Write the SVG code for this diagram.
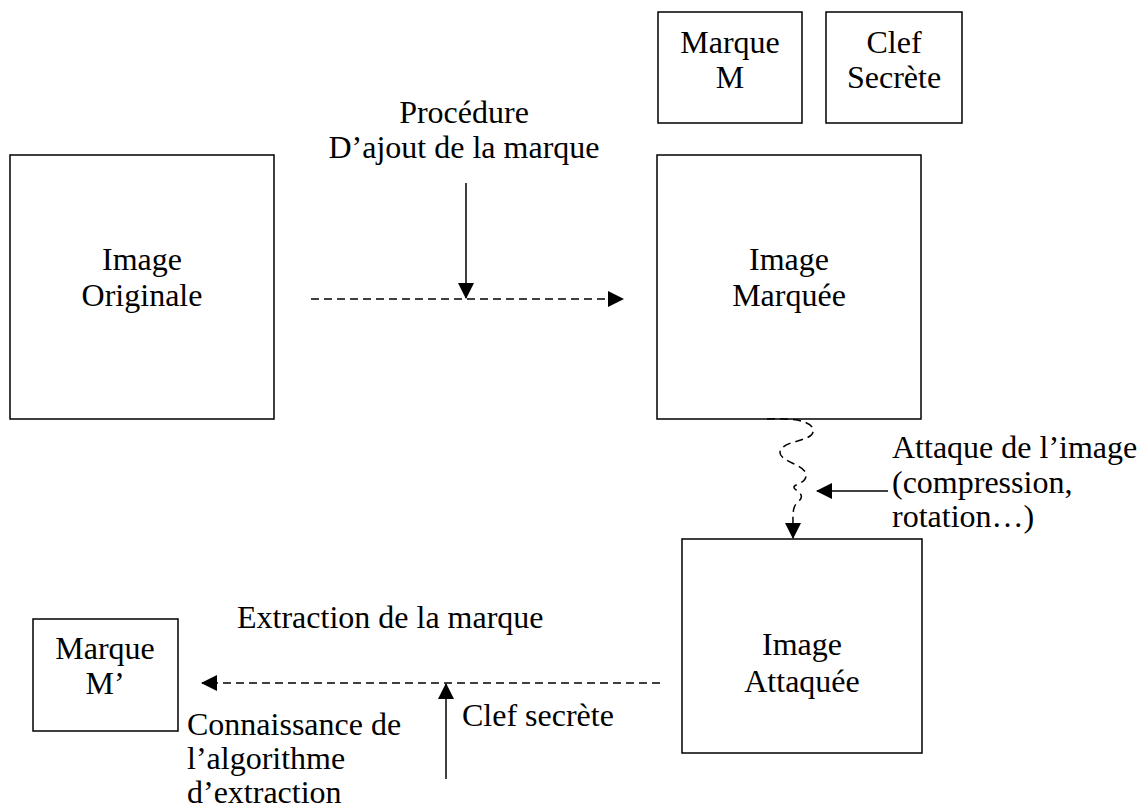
<svg xmlns="http://www.w3.org/2000/svg" width="1148" height="810" viewBox="0 0 1148 810">
<style>
.box{fill:#fff;stroke:#000;stroke-width:1.5}
text{font-family:"Liberation Serif","Times New Roman",serif;font-size:32px;fill:#000}
.c{text-anchor:middle}
.solid{fill:none;stroke:#000;stroke-width:1.5}
.dash{fill:none;stroke:#000;stroke-width:1.5;stroke-dasharray:8 5}
</style>
<defs>
<marker id="ah" markerUnits="userSpaceOnUse" markerWidth="16" markerHeight="16" viewBox="0 0 16 16" refX="15" refY="8" orient="auto">
<path d="M0,0 L16,8 L0,16 Z" fill="#000"/>
</marker>
</defs>
<rect width="1148" height="810" fill="#fff"/>
<g id="marque-m"><rect class="box" x="658" y="12" width="144" height="111"/><text class="c" x="730" y="53">Marque</text><text class="c" x="730" y="88">M</text></g>
<g id="clef-secrete"><rect class="box" x="826" y="12" width="136" height="111"/><text class="c" x="894" y="53">Clef</text><text class="c" x="894" y="88">Secrète</text></g>
<g id="procedure"><text class="c" x="464" y="123">Procédure</text><text class="c" x="464" y="158">D’ajout de la marque</text></g>
<g id="image-originale"><rect class="box" x="10" y="155" width="264" height="264"/><text class="c" x="142" y="270">Image</text><text class="c" x="142" y="306">Originale</text></g>
<g id="image-marquee"><rect class="box" x="657" y="155" width="264" height="264"/><text class="c" x="789" y="270">Image</text><text class="c" x="789" y="306">Marquée</text></g>
<g id="attaque-label"><text x="892" y="458">Attaque de l’image</text><text x="892" y="493">(compression,</text><text x="892" y="527">rotation…)</text></g>
<g id="image-attaquee"><rect class="box" x="682" y="539" width="240" height="214"/><text class="c" x="802" y="655">Image</text><text class="c" x="802" y="692">Attaquée</text></g>
<g id="extraction-label"><text x="237" y="628">Extraction de la marque</text></g>
<g id="marque-m-prime"><rect class="box" x="33" y="619" width="145" height="112"/><text class="c" x="105" y="659">Marque</text><text class="c" x="105" y="694">M’</text></g>
<g id="connaissance-label"><text x="187" y="735">Connaissance de</text><text x="187" y="769">l’algorithme</text><text x="187" y="803">d’extraction</text></g>
<g id="clef-secrete-label"><text x="462" y="726">Clef secrète</text></g>
<g id="connectors">
<line class="dash" x1="311" y1="299" x2="623" y2="299" marker-end="url(#ah)"/>
<line class="solid" x1="466" y1="183" x2="466" y2="298" marker-end="url(#ah)"/>
<path class="dash" d="M767,419 C790,418 815,420 813,432 C811,442 782,440 780,452 C779,462 808,465 806,476 C805,485 790,484 795,489 C800,493 805,496 798,502 C792,507 793,512 793,538" marker-end="url(#ah)"/>
<line class="solid" x1="888" y1="491" x2="817" y2="491" marker-end="url(#ah)"/>
<line class="dash" x1="660" y1="683" x2="202" y2="683" marker-end="url(#ah)"/>
<line class="solid" x1="446" y1="779" x2="446" y2="684" marker-end="url(#ah)"/>
</g>
</svg>
